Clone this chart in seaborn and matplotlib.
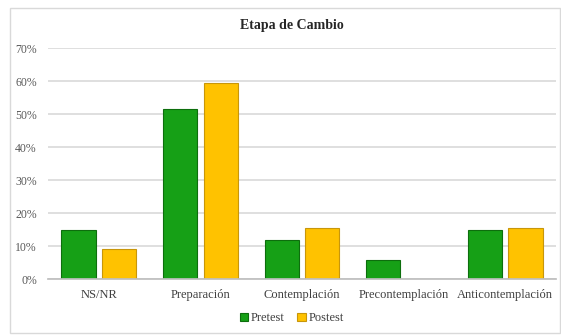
import matplotlib
matplotlib.use("Agg")
import matplotlib.pyplot as plt
from matplotlib.patches import Rectangle
from matplotlib.ticker import PercentFormatter
import seaborn as sns
import pandas as pd

# data
stages = ["NS/NR", "Preparación", "Contemplación", "Precontemplación", "Anticontemplación"]
pretest = [0.148, 0.516, 0.120, 0.059, 0.148]
postest = [0.091, 0.595, 0.155, 0.0, 0.155]
series = ["Pretest", "Postest"]
colors = ["#16a016", "#ffc200"]
edges = ["#0d6e0d", "#c8960a"]

df = pd.DataFrame({
    "Etapa": stages * 2,
    "Serie": [series[0]] * len(stages) + [series[1]] * len(stages),
    "Valor": pretest + postest,
})

sns.set_theme(style="white")
plt.rcParams["font.family"] = ["Liberation Serif", "DejaVu Serif"]

fig = plt.figure(figsize=(5.61, 3.35), dpi=100)
ax = fig.add_axes([0.0856, 0.1663, 0.9054, 0.6895])

sns.barplot(data=df, x="Etapa", y="Valor", hue="Serie", palette=colors,
            saturation=1, width=0.8, gap=0.16, ax=ax, legend=False)

# darker outline per series, skip empty bars
n = len(stages)
for i, bar in enumerate(ax.patches[:2 * n]):
    bar.set_edgecolor(edges[i // n])
    bar.set_linewidth(0.8)
    if bar.get_height() == 0:
        bar.set_visible(False)

ax.set_ylim(0, 0.7)
ax.set_yticks([i / 10 for i in range(8)])
ax.yaxis.set_major_formatter(PercentFormatter(1.0, decimals=0))
ax.grid(axis="y", color="#d9d9d9", lw=1.2)
ax.set_axisbelow(True)
for s in ["top", "right", "left"]:
    ax.spines[s].set_visible(False)
ax.spines["bottom"].set_color("#bfbfbf")
ax.tick_params(axis="y", length=0, pad=8, labelsize=8.5, labelcolor="#595959")
ax.tick_params(axis="x", length=0, pad=7, labelsize=9, labelcolor="#404040")
ax.set_xlabel("")
ax.set_ylabel("")

fig.text(0.52, 0.925, "Etapa de Cambio", ha="center", va="center",
         fontsize=10, fontweight="bold", color="#262626")

handles = [Rectangle((0, 0), 1, 1, facecolor=c, edgecolor=e, lw=0.8)
           for c, e in zip(colors, edges)]
fig.legend(handles, series, loc="center", bbox_to_anchor=(0.52, 0.05), ncol=2,
           frameon=False, fontsize=9, handlelength=0.7, handleheight=0.7,
           handletextpad=0.2, columnspacing=1.0, labelcolor="#404040")

# light frame around the chart
fig.patches.append(Rectangle((0.018, 0.006), 0.98, 0.97, transform=fig.transFigure,
                             fill=False, edgecolor="#d9d9d9", lw=1))

fig.savefig("out.png", dpi=100)
